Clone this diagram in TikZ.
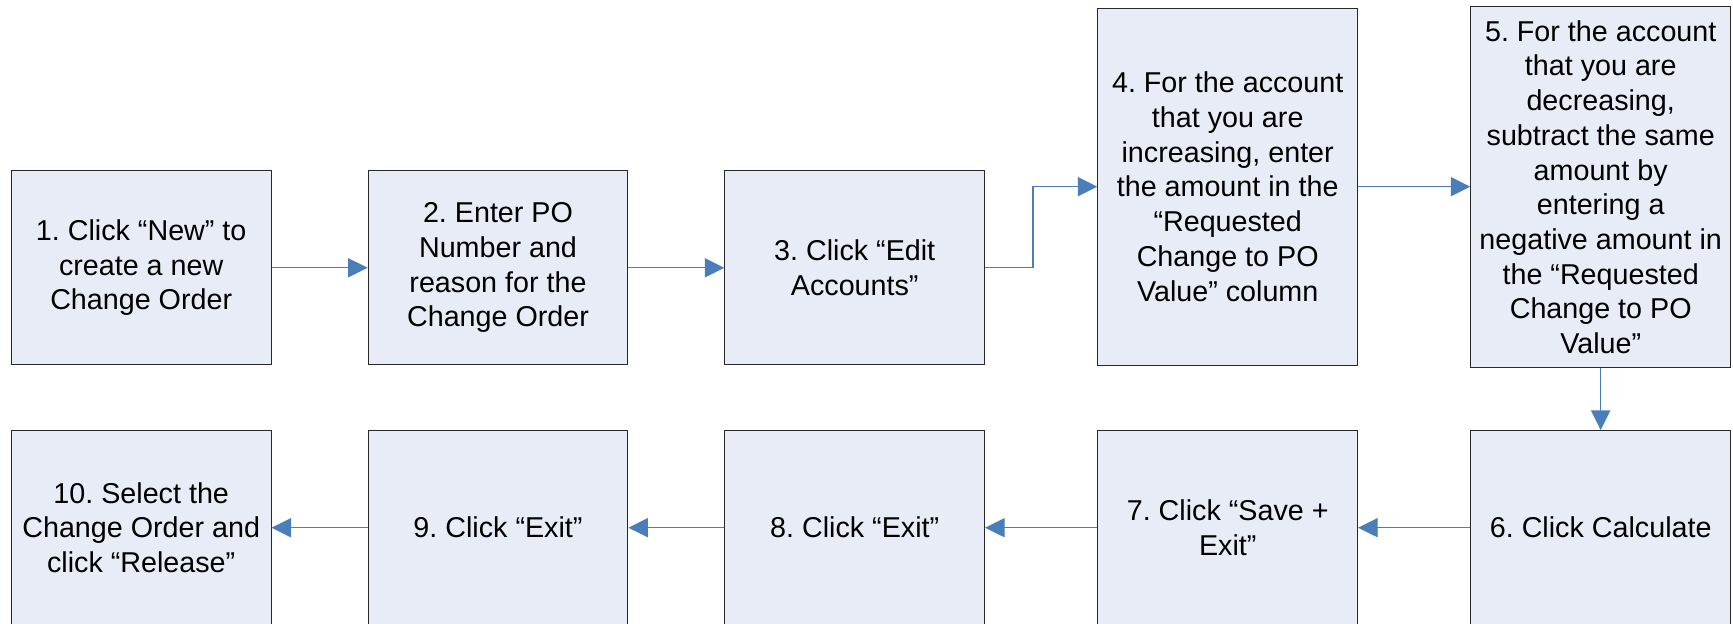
\documentclass[tikz,border=0pt]{standalone}
\usepackage{fontspec}
\setmainfont{Liberation Sans}
\usetikzlibrary{arrows.meta}
\frenchspacing
\definecolor{boxfill}{RGB}{231,236,246}
\definecolor{boxline}{RGB}{40,40,40}
\definecolor{flow}{RGB}{74,126,187}
\begin{document}
\begin{tikzpicture}[x=0.5pt,y=-0.5pt,
  stepbox/.style={draw=boxline, fill=boxfill, line width=0.5pt, rectangle,
    inner sep=0pt, align=center, text=black, minimum width=129.85pt,
    font=\fontsize{14.35pt}{17.35pt}\selectfont},
  shortbox/.style={stepbox, minimum height=97.15pt},
  flowline/.style={draw=flow, line width=0.6pt,
    -{Triangle[length=9.8pt,width=9.6pt,fill=flow]}}
]
\useasboundingbox (0,0) rectangle (1733,624);

% upper row, left to right
\node[shortbox] (b1) at (141.2,267.8) {1. Click “New” to\\create a new\\Change Order};
\node[shortbox] (b2) at (498,267.8) {2. Enter PO\\Number and\\reason for the\\Change Order};
\node[shortbox] (b3) at (854.7,267.8) {3. Click “Edit\\Accounts”};
\node[stepbox, minimum height=178.35pt] (b4) at (1227.7,186.7)
  {4. For the account\\that you are\\increasing, enter\\the amount in the\\“Requested\\Change to PO\\Value” column};
\node[stepbox, minimum height=180.6pt] (b5) at (1600.7,187.1)
  {5. For the account\\that you are\\decreasing,\\subtract the same\\amount by\\entering a\\negative amount in\\the “Requested\\Change to PO\\Value”};

% lower row, right to left
\node[shortbox] (b6) at (1600.7,527.7) {6. Click Calculate};
\node[shortbox] (b7) at (1227.7,527.7) {7. Click “Save +\\Exit”};
\node[shortbox] (b8) at (854.7,527.7) {8. Click “Exit”};
\node[shortbox] (b9) at (498,527.7) {9. Click “Exit”};
\node[shortbox] (b10) at (141.2,527.7) {10. Select the\\Change Order and\\click “Release”};

% connectors
\draw[flowline] (b1) -- (b2);
\draw[flowline] (b2) -- (b3);
\draw[flowline] (b3.east) -- ++(48,0) |- (b4.west);
\draw[flowline] (b4.east) -- (b4.east -| b5.west);
\draw[flowline] (b5) -- (b6);
\draw[flowline] (b6) -- (b7);
\draw[flowline] (b7) -- (b8);
\draw[flowline] (b8) -- (b9);
\draw[flowline] (b9) -- (b10);
\end{tikzpicture}
\end{document}
